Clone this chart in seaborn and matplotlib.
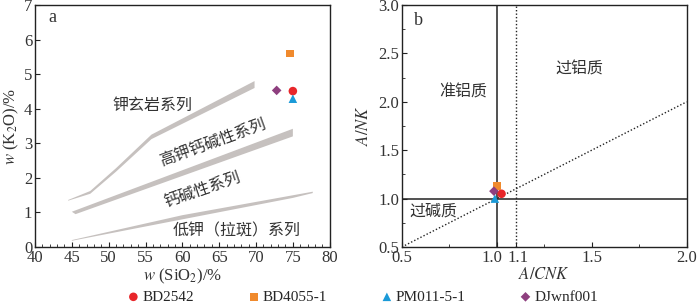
import numpy as np
import pandas as pd
import matplotlib
matplotlib.use("Agg")
import matplotlib.pyplot as plt
import matplotlib.transforms as mtransforms
from matplotlib.ticker import MultipleLocator, FixedLocator
import seaborn as sns

# sample data
samples = ["BD2542", "BD4055-1", "PM011-5-1", "DJwnf001"]
sio2 = [75.0, 74.6, 75.0, 72.8]
k2o = [4.51, 5.60, 4.29, 4.53]
a_cnk = [1.025, 1.00, 0.99, 0.985]
a_nk = [1.05, 1.128, 1.00, 1.077]
colors = ["#e8262a", "#f08a2d", "#1a9ad8", "#8e3f7f"]
markers = ["o", "s", "^", "D"]
sizes = [38, 30, 38, 24]

# K2O-SiO2 boundary bands (upper edge then lower edge)
band1_x = [44.5, 47.5, 51.0, 55.8, 69.8, 69.8, 55.8, 51.0, 47.5, 44.5]
band1_y = [1.36, 1.62, 2.28, 3.25, 4.80, 4.60, 3.12, 2.18, 1.54, 1.34]
band2_x = [45.0, 75.0, 75.0, 45.5]
band2_y = [1.02, 3.42, 3.20, 0.95]
band3_x = [45.0, 60.0, 77.7, 77.7, 75.0, 60.0, 45.0]
band3_y = [0.20, 0.92, 1.60, 1.56, 1.42, 0.80, 0.18]

df = pd.DataFrame({"sample": samples, "SiO2": sio2, "K2O": k2o,
                   "A_CNK": a_cnk, "A_NK": a_nk})

sns.set_theme(style="ticks")
plt.rcParams["font.family"] = ["Liberation Serif", "Noto Sans CJK SC"]
plt.rcParams["mathtext.fontset"] = "stix"
plt.rcParams["axes.unicode_minus"] = False

txt = "#333333"
fig = plt.figure(figsize=(7.0, 3.04), dpi=100)
ax1 = fig.add_axes([0.05, 0.1875, 0.421, 0.796])
ax2 = fig.add_axes([0.574, 0.1875, 0.407, 0.796])

# ---- panel a ----
for bx, by in [(band1_x, band1_y), (band2_x, band2_y), (band3_x, band3_y)]:
    ax1.fill(bx, by, color="#c6c1bf", lw=0, zorder=1)

for i, s in enumerate(samples):
    sub = df[df["sample"] == s]
    sns.scatterplot(data=sub, x="SiO2", y="K2O", color=colors[i], marker=markers[i],
                    s=sizes[i], edgecolor="none", ax=ax1, zorder=3, label=s)
ax1.get_legend().remove()

ax1.set_xlim(40, 80)
ax1.set_ylim(0, 7)
ax1.xaxis.set_major_locator(MultipleLocator(5))
ax1.xaxis.set_minor_locator(MultipleLocator(1))
ax1.yaxis.set_major_locator(MultipleLocator(1))
ax1.set_xlabel(r"$w$ (SiO$_2$)/%", fontsize=12, color=txt, labelpad=1)
ax1.set_ylabel(r"$w$ (K$_2$O)/%", fontsize=12, color=txt, labelpad=2)
ax1.text(42.3, 6.65, "a", fontsize=13, color=txt, ha="center", va="center")
cn = dict(fontsize=11.5, color=txt, ha="center", va="center")
ax1.text(56.0, 4.07, "钾玄岩系列", **cn)
ax1.text(64.2, 3.0, "高钾钙碱性系列", rotation=20, **cn)
ax1.text(62.8, 1.65, "钙碱性系列", rotation=19, **cn)
ax1.text(67.3, 0.44, "低钾（拉斑）系列", **cn)

# ---- panel b ----
ax2.axvline(1.0, color="#222222", lw=1.1, zorder=2)
ax2.axhline(1.0, color="#222222", lw=1.1, zorder=2)
ax2.axvline(1.1, color="#222222", lw=1.0, ls=(0, (1, 1.5)), zorder=2)
ax2.plot([0.5, 2.0], [0.5, 2.0], color="#222222", lw=1.0, ls=(0, (1, 1.5)), zorder=2)

for i, s in enumerate(samples):
    sub = df[df["sample"] == s]
    sns.scatterplot(data=sub, x="A_CNK", y="A_NK", color=colors[i], marker=markers[i],
                    s=sizes[i], edgecolor="none", ax=ax2, zorder=3, label=s)
handles, labels = ax2.get_legend_handles_labels()
ax2.get_legend().remove()

ax2.set_xlim(0.5, 2.0)
ax2.set_ylim(0.5, 3.0)
ax2.xaxis.set_major_locator(FixedLocator([0.5, 1.0, 1.1, 1.5, 2.0]))
ax2.xaxis.set_minor_locator(FixedLocator([0.75, 1.25, 1.75]))
ax2.yaxis.set_major_locator(MultipleLocator(0.5))
ax2.yaxis.set_minor_locator(MultipleLocator(0.25))
ax2.set_xticklabels(["0.5", "1.0", "1.1", "1.5", "2.0"])
ax2.set_xlabel(r"$A/CNK$", fontsize=12, color=txt, labelpad=1)
ax2.set_ylabel(r"$A/NK$", fontsize=12, color=txt, labelpad=4)
ax2.text(0.587, 2.84, "b", fontsize=13, color=txt, ha="center", va="center")
ax2.text(1.433, 2.33, "过铝质", **cn)
ax2.text(0.824, 2.10, "准铝质", **cn)
ax2.text(0.666, 0.87, "过碱质", **cn)

for ax in (ax1, ax2):
    ax.tick_params(which="both", direction="in", labelsize=12, labelcolor=txt,
                   color="#222222", pad=2)
    ax.tick_params(which="major", length=3.5, width=0.8)
    ax.tick_params(which="minor", length=2, width=0.6)
    for sp in ax.spines.values():
        sp.set_visible(True)
        sp.set_color("#222222")
        sp.set_linewidth(1.0)
    ax.grid(False)

def nudge(label, dx, dy):
    label.set_transform(label.get_transform() +
                        mtransforms.ScaledTranslation(dx / 100, dy / 100, fig.dpi_scale_trans))

# nudge labels as in the original: "1.0"/"1.1" apart, corner labels apart
fig.canvas.draw()
xt = ax2.get_xticklabels()
nudge(xt[1], -5, 0)
nudge(xt[2], 2, 0)
nudge(ax1.get_yticklabels()[0], 0, 6)
nudge(ax2.get_yticklabels()[0], 0, 6)

fig.legend(handles, labels, loc="center", bbox_to_anchor=(362 / 700, 1 - 297 / 304),
           ncol=4, frameon=False, handletextpad=0.1,
           prop={"family": "Liberation Serif", "size": 11},
           columnspacing=3.4, handlelength=1.0, borderpad=0)

fig.savefig("out.png", dpi=100)
